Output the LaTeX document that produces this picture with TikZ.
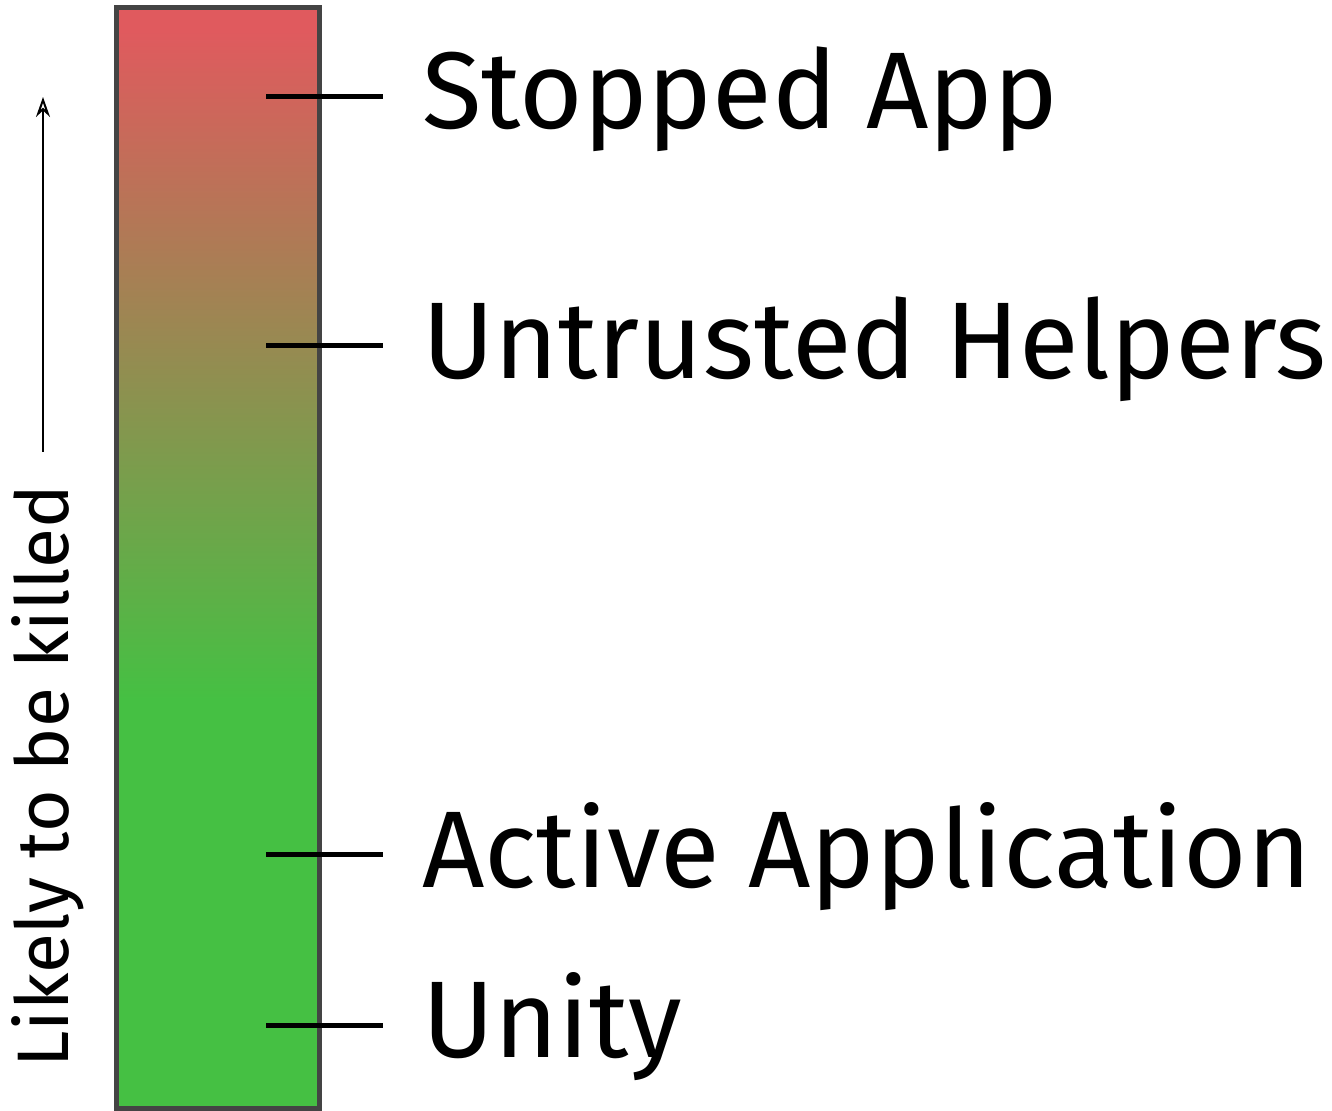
\documentclass[tikz,border=0pt]{standalone}
\usepackage{fontspec}
\setmainfont{Fira Sans}
\usetikzlibrary{arrows.meta}
\definecolor{killred}{HTML}{E05A5E}
\definecolor{killmid}{HTML}{A2864E}
\definecolor{killgreen}{HTML}{45C043}
\definecolor{barframe}{HTML}{444444}
\tikzset{
  lbl/.style={anchor=base west, inner sep=0pt, font=\fontsize{54.5}{60}\selectfont},
  tick/.style={line width=2.5pt, black},
}

\begin{document}
\begin{tikzpicture} [x=0.5pt, y=-0.5pt]

\useasboundingbox (0,0) rectangle (1332,1111);

%\draw [help lines, step=100](0,0) grid (1332,1111);
\fill [killred] (116,8) rectangle (319,30);
\shade [top color=killred, middle color=killmid, bottom color=killgreen] (116,30) rectangle (319,700);
\fill [killgreen] (116,700) rectangle (319,1108);
\draw [barframe, line width=2.5pt] (116,8) rectangle (319,1108);

\coordinate (stopped-in) at (266,97);
\coordinate (helpers-in) at (266,346);
\coordinate (active-in) at (266,854);
\coordinate (unity-in) at (266,1025);

\node [lbl] (stopped) at (422,129) {Stopped App};
\node [lbl] (helpers) at (422,379) {Untrusted Helpers};
\node [lbl] (active) at (422,887) {Active Application};
\node [lbl] (unity) at (422,1057) {Unity};

\draw [tick] (stopped-in) -- ++(117,0);
\draw [tick] (helpers-in) -- ++(117,0);
\draw [tick] (active-in) -- ++(117,0);
\draw [tick] (unity-in) -- ++(117,0);

\node [rotate=90, anchor=base west, inner sep=0pt, font=\fontsize{36.5}{40}\selectfont] (killed) at (68,1068) {Likely to be killed};
\coordinate (arrow-bot) at (43,452);
\coordinate (arrow-top) at (43,97);
\draw [line width=1pt, -{Stealth[open, length=10pt, width=7pt]}] (arrow-bot) -- (arrow-top);

\end{tikzpicture}
\end{document}
